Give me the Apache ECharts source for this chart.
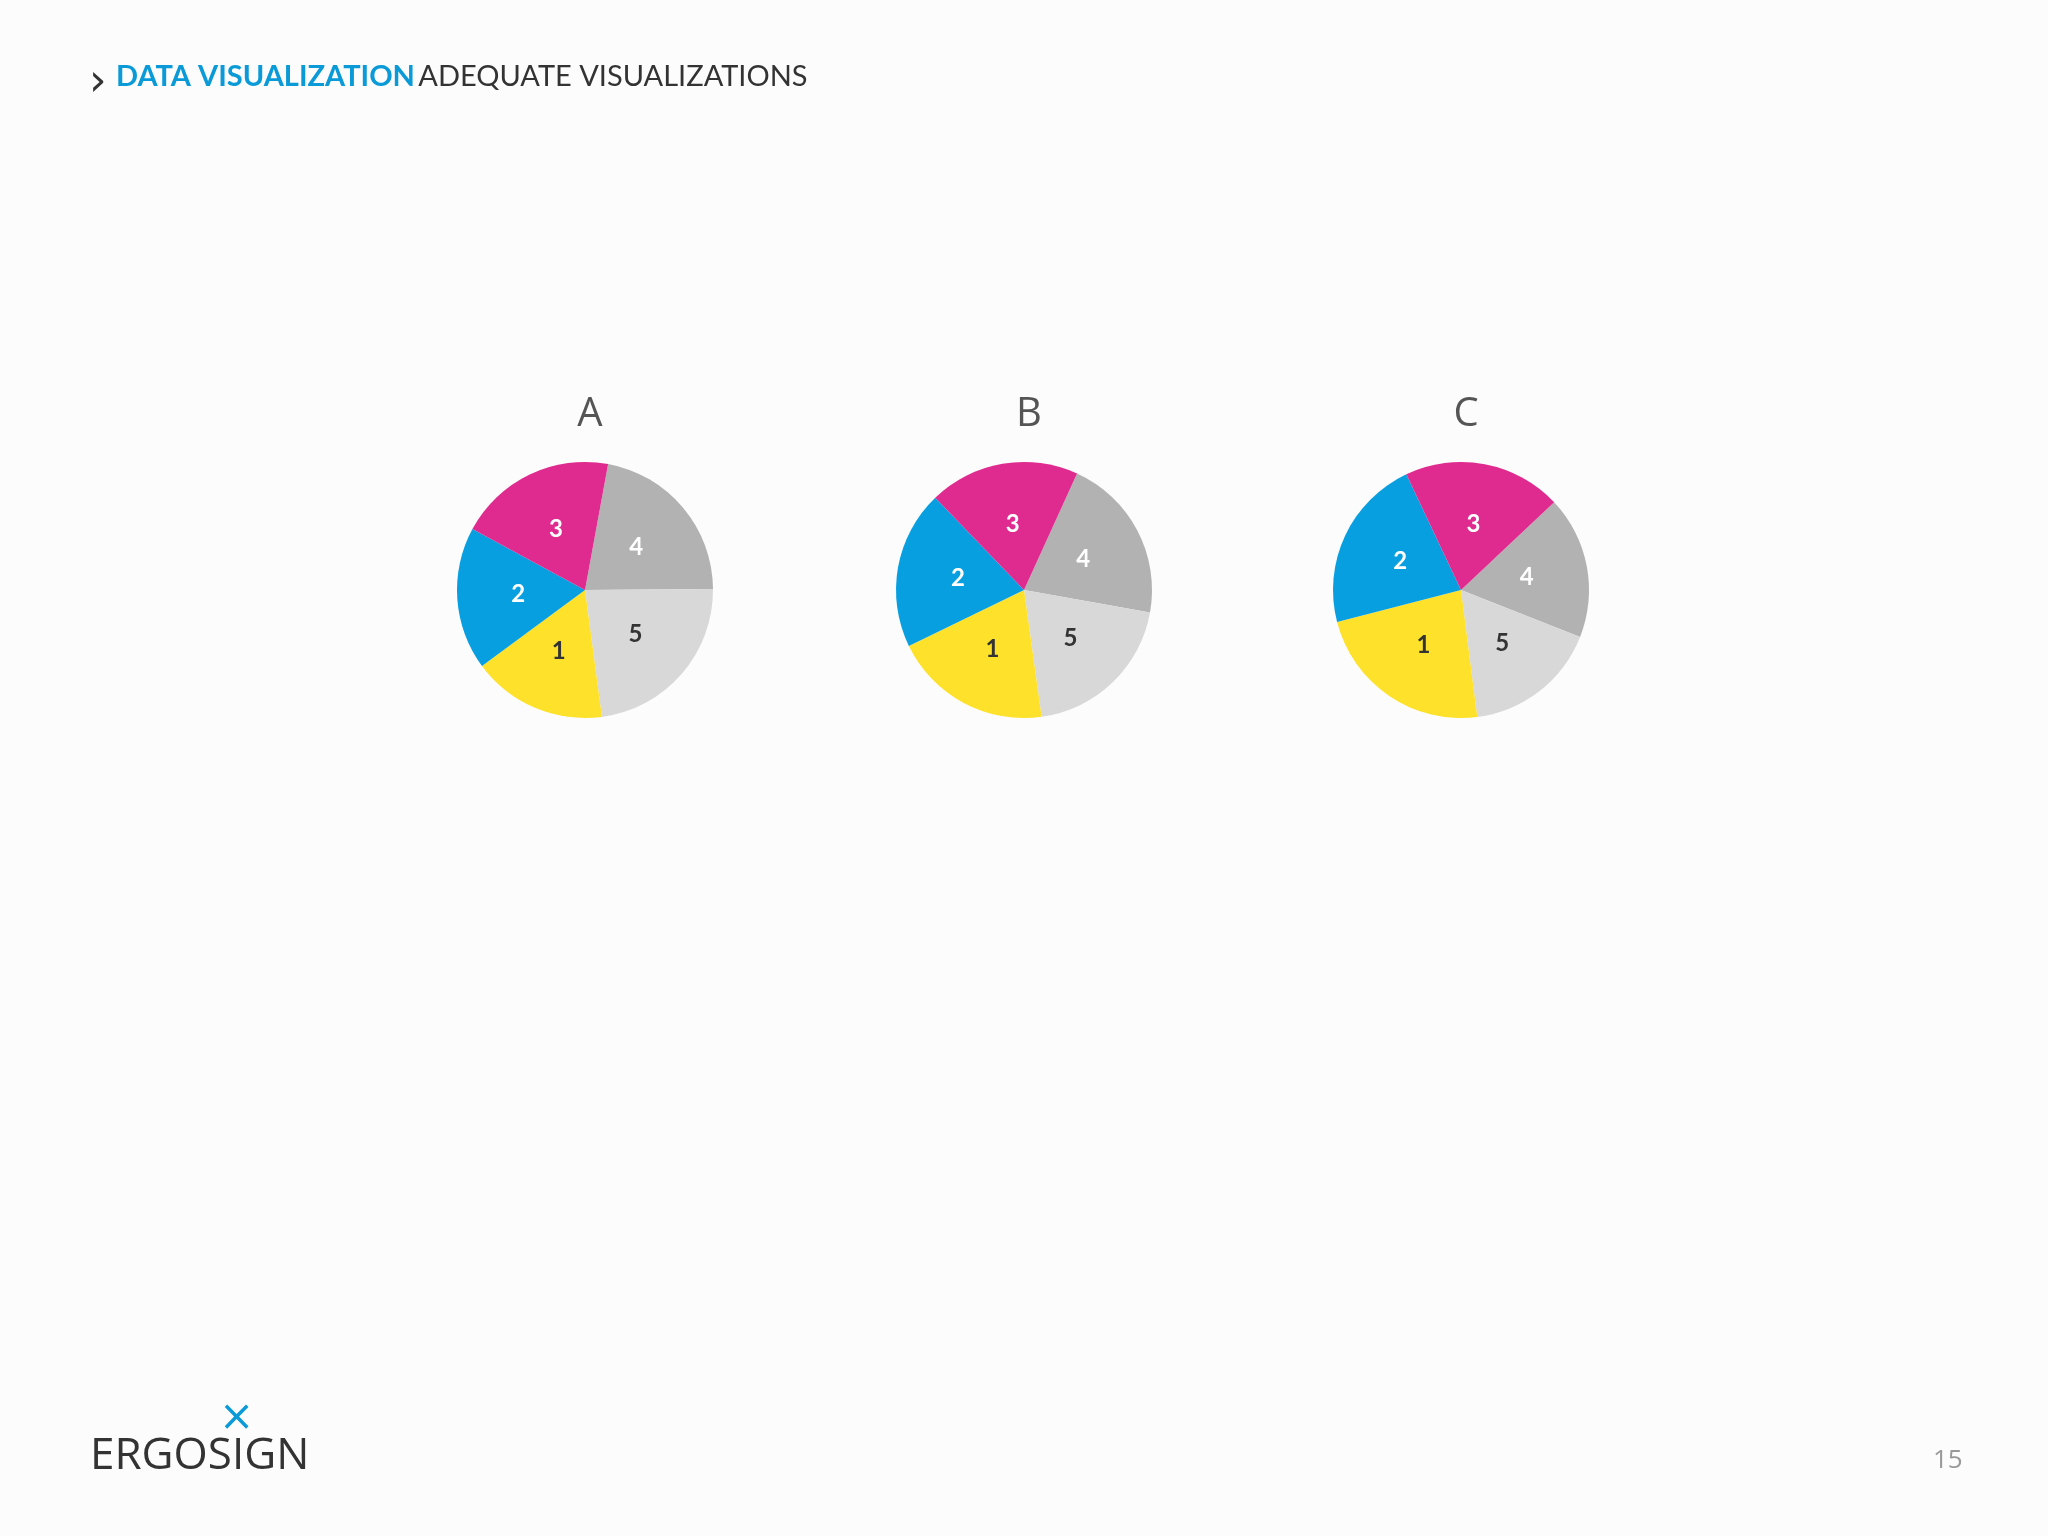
<!DOCTYPE html>
<html><head><meta charset="utf-8">
<script src="https://cdn.jsdelivr.net/npm/echarts@6/dist/echarts.min.js"></script>
<style>html,body{margin:0;padding:0;background:#fcfcfc}#c{width:2048px;height:1536px}</style>
</head><body><div id="c"></div>
<script>
const sliceNames = ['4','5','1','2','3'];
const valuesA = [22, 23, 17, 18, 20];
const valuesB = [21, 20, 20, 20, 19];
const valuesC = [18, 17, 23, 22, 20];
const chartTitles = ['A','B','C'];
const colorMap = {'1':'#fde12b','2':'#079fe0','3':'#df2a8f','4':'#b3b2b3','5':'#d9d8d9'};
const labelColor = {'1':'#333','2':'#fff','3':'#fff','4':'#fff','5':'#333'};
const starts = [79.6, 65.5, 43.3];
const centersX = [585, 1024, 1461];

const allValues = [valuesA, valuesB, valuesC];
const series = allValues.map((vals, i) => ({
  type:'pie', radius:128, center:[centersX[i], 590], startAngle:starts[i],
  clockwise:true, silent:true,
  label:{show:true, position:'inside', fontSize:24, fontWeight:'bold', fontFamily:'Lato', formatter:'{b}'},
  labelLine:{show:false},
  data: sliceNames.map((n,j)=>({name:n, value:vals[j], itemStyle:{color:colorMap[n]}, label:{color:labelColor[n]}}))
}));

const chart = echarts.init(document.getElementById('c'));
chart.setOption({
  backgroundColor:'#fcfcfc',
  animation:false,
  title: chartTitles.map((t,i)=>({text:t, left:centersX[i], top:390, textAlign:'center',
    textStyle:{fontSize:40, fontWeight:'normal', color:'#555', fontFamily:'Open Sans'}})),
  graphic:[
    {type:'text', left:89, top:62, style:{text:'›', fontSize:44, fill:'#333', fontFamily:'DejaVu Sans'}},
    {type:'text', left:116, top:62, style:{
      text:'{a|DATA VISUALIZATION} {b|ADEQUATE VISUALIZATIONS}',
      rich:{a:{fontSize:29, fontWeight:'bold', fill:'#0a9ad8', fontFamily:'Lato'},
            b:{fontSize:29, fill:'#333', fontFamily:'Lato'}}}},
    {type:'text', left:219, top:1398, style:{text:'×', fontSize:42, fill:'#0a9ad8', fontFamily:'DejaVu Sans'}},
    {type:'text', left:90, top:1434, style:{text:'ERGOSIGN', fontSize:44, fill:'#333', fontFamily:'Open Sans'}},
    {type:'text', left:1933, top:1448, style:{text:'15', fontSize:26, fill:'#999', fontFamily:'Open Sans'}}
  ],
  series
});
</script></body></html>
